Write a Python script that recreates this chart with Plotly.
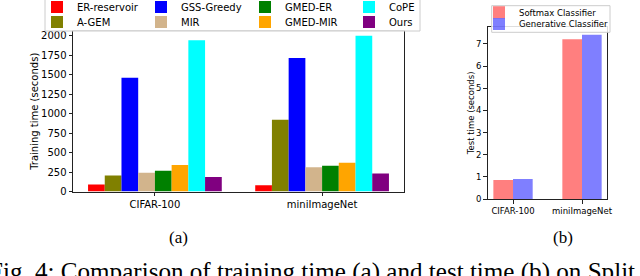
import plotly.graph_objects as go

# ---------------- data ----------------
categories = ["CIFAR-100", "miniImageNet"]
methods = ["ER-reservoir", "A-GEM", "GSS-Greedy", "MIR", "GMED-ER", "GMED-MIR", "CoPE", "Ours"]
train_cifar = [90, 205, 1460, 240, 265, 340, 1940, 185]
train_mini = [80, 920, 1715, 310, 330, 370, 2000, 230]

classifiers = ["Softmax Classifier", "Generative Classifier"]
test_softmax = [0.86, 7.21]
test_generative = [0.90, 7.42]

method_colors = ["#ff0000", "#808000", "#0000ff", "#d2b48c", "#008000", "#ffa500", "#00ffff", "#800080"]
clf_colors = ["rgba(255,0,0,0.5)", "rgba(0,0,255,0.5)"]

W, H = 640, 276
FONT = "DejaVu Sans"


def px_x(p):
    return p / W


def px_y(p):
    return 1 - p / H


fig = go.Figure()

# left chart: training time
bw = 0.1
for i, m in enumerate(methods):
    fig.add_trace(go.Bar(
        x=categories, y=[train_cifar[i], train_mini[i]], name=m,
        marker=dict(color=method_colors[i], line=dict(width=0)),
        width=bw, offset=-0.4 + i * bw,
        xaxis="x", yaxis="y",
        legend="legend" if i % 2 == 0 else "legend3",
    ))

# right chart: test time
tw = 0.285
test_vals = [test_softmax, test_generative]
for j, c in enumerate(classifiers):
    fig.add_trace(go.Bar(
        x=categories, y=test_vals[j], name=c,
        marker=dict(color=clf_colors[j], line=dict(width=0)),
        width=tw, offset=-tw + j * tw,
        xaxis="x2", yaxis="y2",
        legend="legend2" if j == 0 else "legend4",
    ))

axis_common = dict(showline=True, linecolor="#222", linewidth=1, mirror=True,
                   ticks="outside", ticklen=3.5, tickcolor="#222",
                   showgrid=False, zeroline=False)

leg_common = dict(bgcolor="rgba(0,0,0,0)", borderwidth=0)

fig.update_layout(
    width=W, height=H, autosize=False,
    margin=dict(l=0, r=0, t=0, b=0, autoexpand=False),
    paper_bgcolor="white", plot_bgcolor="white",
    font=dict(family=FONT, color="black", size=10),
    barmode="overlay",
    showlegend=True,
    xaxis=dict(domain=[px_x(73), px_x(404)], range=[-0.49, 1.49], type="category",
               anchor="y", tickfont=dict(size=10), **axis_common),
    yaxis=dict(domain=[px_y(191.5), px_y(31)], range=[0, 2060], dtick=250,
               anchor="x", tickfont=dict(size=10),
               title=dict(text="Training time (seconds)", font=dict(size=10), standoff=0),
               **axis_common),
    xaxis2=dict(domain=[px_x(487.7), px_x(606.7)], range=[-0.367, 1.358], type="category",
                anchor="y2", tickfont=dict(size=8.5), **axis_common),
    yaxis2=dict(domain=[px_y(199), px_y(26.7)], range=[0, 7.78], dtick=1,
                anchor="x2", tickfont=dict(size=8.5),
                title=dict(text="Test time (seconds)", font=dict(size=8.5), standoff=0),
                **axis_common),
    legend=dict(orientation="h", x=px_x(37), xanchor="left", y=px_y(7), yanchor="middle",
                entrywidth=59, entrywidthmode="pixels", font=dict(size=10), **leg_common),
    legend3=dict(orientation="h", x=px_x(37), xanchor="left", y=px_y(22), yanchor="middle",
                 entrywidth=59, entrywidthmode="pixels", font=dict(size=10), **leg_common),
    legend2=dict(orientation="v", x=px_x(479), xanchor="left", y=px_y(12.3), yanchor="middle",
                 font=dict(size=8.5), **leg_common),
    legend4=dict(orientation="v", x=px_x(479), xanchor="left", y=px_y(24), yanchor="middle",
                 font=dict(size=8.5), **leg_common),
    shapes=[
        dict(type="rect", xref="paper", yref="paper", layer="above",
             x0=px_x(45), x1=px_x(420), y0=px_y(31), y1=px_y(-5),
             line=dict(color="#cccccc", width=1), fillcolor="rgba(255,255,255,0.85)"),
        dict(type="rect", xref="paper", yref="paper", layer="above",
             x0=px_x(491.7), x1=px_x(610), y0=px_y(32.3), y1=px_y(5.7),
             line=dict(color="#cccccc", width=1), fillcolor="rgba(255,255,255,0.85)"),
    ],
    annotations=[
        dict(text="(a)", x=px_x(178), y=px_y(237), xref="paper", yref="paper",
             xanchor="center", yanchor="middle", showarrow=False,
             font=dict(family="Liberation Serif", size=17, color="black")),
        dict(text="(b)", x=px_x(563), y=px_y(237), xref="paper", yref="paper",
             xanchor="center", yanchor="middle", showarrow=False,
             font=dict(family="Liberation Serif", size=17, color="black")),
        dict(text="Fig. 4: Comparison of training time (a) and test time (b) on Split",
             x=px_x(-13), y=px_y(272), xref="paper", yref="paper",
             xanchor="left", yanchor="middle", showarrow=False,
             font=dict(family="Liberation Serif", size=25.1, color="black")),
    ],
)

fig.write_html("out.html", config={"displayModeBar": False},
               post_script="document.body.style.margin='0';document.body.style.overflow='hidden';")
